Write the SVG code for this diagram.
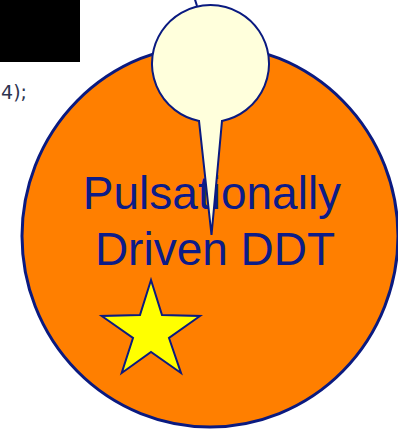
<svg xmlns="http://www.w3.org/2000/svg" width="398" height="430" viewBox="0 0 398 430">
  <style>
    .nv { stroke: #0A1A80; }
    .lbl { font-family: "Liberation Sans", Arial, sans-serif; font-size: 46px; fill: #0C1C88; text-anchor: middle; }
    .code { font-family: "DejaVu Sans", sans-serif; font-size: 19px; fill: #2E3450; text-anchor: end; }
  </style>
  <rect width="398" height="430" fill="#FFFFFF"/>
  <rect id="blackbox" x="0" y="0" width="80" height="62" fill="#000000"/>
  <text id="codetext" class="code" x="27" y="99">4);</text>
  <g id="ddt">
    <ellipse cx="210" cy="236" rx="188" ry="191" fill="#FF7F00" class="nv" stroke-width="3"/>
    <polygon id="star" points="151,280 162,315 200,316 169,338 181,373 151,352 121.7,373 133,338 101.7,316 140,315" fill="#FFFF00" class="nv" stroke-width="2" stroke-linejoin="miter"/>
    <text class="lbl" x="212" y="209">Pulsationally</text>
    <text class="lbl" x="215" y="265">Driven DDT</text>
  </g>
  <g id="connectors">
    <line x1="194.5" y1="-2" x2="197" y2="6" class="nv" stroke-width="2"/>
  </g>
  <g id="callout">
    <path d="M199,120.9 A58.5,58.5 0 1,1 222,120.9 L211.5,235 Z" fill="#FFFFDC" class="nv" stroke-width="2" stroke-linejoin="miter"/>
  </g>
</svg>
